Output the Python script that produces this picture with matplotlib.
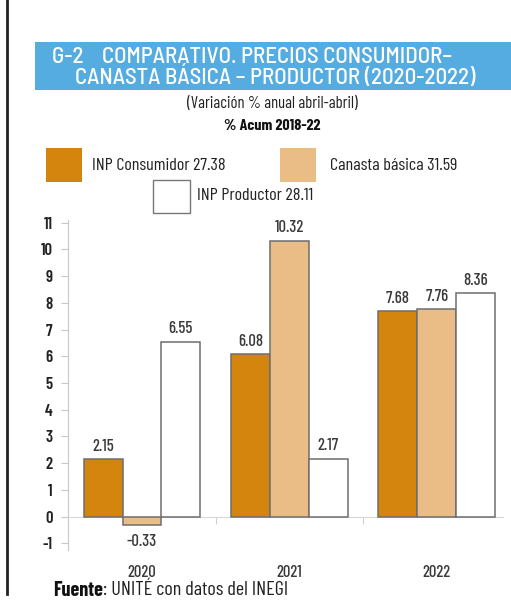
import matplotlib
matplotlib.use("Agg")
import matplotlib.pyplot as plt
from matplotlib.patches import Rectangle
from matplotlib.lines import Line2D
import numpy as np

# datos del gráfico
years = ["2020", "2021", "2022"]
consumidor = [2.15, 6.08, 7.68]
canasta = [-0.33, 10.32, 7.76]
productor = [6.55, 2.17, 8.36]
series_names = ["INP Consumidor 27.38", "Canasta básica 31.59", "INP Productor 28.11"]
y_ticks = list(range(-1, 12))

FONT = ["Barlow Condensed", "Saira Condensed", "DejaVu Sans"]
TITLE_FONT = ["Barlow Semi Condensed", "Barlow Condensed", "DejaVu Sans"]
plt.rcParams["font.family"] = FONT

c_cons = "#D4850E"
c_can = "#E9BD85"
c_prod = "#FFFFFF"
c_blue = "#55ACE0"
c_txt = "#3a3a3a"

W, H = 511, 606
fig = plt.figure(figsize=(W / 100, H / 100), dpi=100)


def fx(px):
    return px / W


def fy(py):
    return 1 - py / H


# línea negra a la izquierda
fig.add_artist(Line2D([fx(7), fx(7)], [fy(0), fy(594)], color="#222222", lw=2))

# banda azul del título
fig.add_artist(Rectangle((fx(35), fy(90)), fx(476), 48 / H, facecolor=c_blue,
                         edgecolor="none", transform=fig.transFigure))
fig.text(fx(52), fy(57), "G-2    COMPARATIVO. PRECIOS CONSUMIDOR–", color="white",
         fontsize=16.5, fontweight="medium", va="center", ha="left", family=TITLE_FONT)
fig.text(fx(75), fy(77), "CANASTA BÁSICA – PRODUCTOR (2020-2022)", color="white",
         fontsize=16.5, fontweight="medium", va="center", ha="left", family=TITLE_FONT)
fig.text(fx(272), fy(103), "(Variación % anual abril-abril)", color="#222222",
         fontsize=12, va="center", ha="center")
fig.text(fx(272), fy(126), "% Acum 2018-22", color="#111111",
         fontsize=11.5, fontweight="bold", va="center", ha="center")

# leyenda manual
legend_items = [
    (c_cons, (46, 148, 36, 34), (92, 165)),
    (c_can, (280, 148, 36, 34), (330, 165)),
    (c_prod, (153, 180, 37, 33), (197, 196)),
]
for (col, (x0, y0, w, h), (tx, ty)), name in zip(legend_items, series_names):
    fig.add_artist(Rectangle((fx(x0), fy(y0 + h)), w / W, h / H, facecolor=col,
                             edgecolor="#777777" if col == c_prod else "none", lw=1,
                             transform=fig.transFigure))
    fig.text(fx(tx), fy(ty), name, color="#222222", fontsize=13,
             va="center", ha="left")

# ejes
ax = fig.add_axes([fx(68), fy(550), 435 / W, 330 / H])
ax.set_xlim(-0.502, 2.45)
ax.set_ylim(-1.25, 11.1)

x = np.arange(len(years))
bw = 0.264
series = [(consumidor, c_cons), (canasta, c_can), (productor, c_prod)]
for k, (vals, col) in enumerate(series):
    pos = x + (k - 1) * bw
    bars = ax.bar(pos, vals, width=bw, color=col, edgecolor="#6e6e6e", linewidth=1.1,
                  zorder=3)
    for b, v in zip(bars, vals):
        if v >= 0:
            ax.annotate(f"{v:.2f}", (b.get_x() + b.get_width() / 2, v),
                        xytext=(0, 4), textcoords="offset points", ha="center",
                        va="bottom", fontsize=12, color=c_txt, fontweight="medium")
        else:
            ax.annotate(f"{v:.2f}", (b.get_x() + b.get_width() / 2, v),
                        xytext=(0, -6), textcoords="offset points", ha="center",
                        va="top", fontsize=12, color=c_txt, fontweight="medium")

# años debajo
for i, yr in enumerate(years):
    ax.text(i, -2.1, yr, ha="center", va="center", fontsize=12, color=c_txt,
            fontweight="medium", clip_on=False)

for s in ["top", "right"]:
    ax.spines[s].set_visible(False)
ax.spines["left"].set_color("#c8c8c8")
ax.spines["bottom"].set_position(("data", 0))
ax.spines["bottom"].set_color("#d8d8d8")
ax.set_xticks([0.5, 1.5])
ax.set_xticklabels([])
ax.tick_params(axis="x", length=5, color="#d0d0d0", direction="out")
ax.set_yticks(y_ticks)
ax.set_yticklabels([str(t) for t in y_ticks])
ax.tick_params(axis="y", length=5, color="#c8c8c8", labelsize=12, labelcolor="#222222",
               pad=6)
for lab in ax.get_yticklabels():
    lab.set_fontweight("semibold")

# fuente
t = fig.text(fx(53), fy(590), "Fuente", color="#111111", fontsize=14.5,
             fontweight="bold", va="center", ha="left")
fig.canvas.draw()
bb = t.get_window_extent()
fig.text(bb.x1 / W, fy(590), ": UNITÉ con datos del INEGI", color="#222222",
         fontsize=14.5, va="center", ha="left")

fig.savefig("out.png", dpi=100)
